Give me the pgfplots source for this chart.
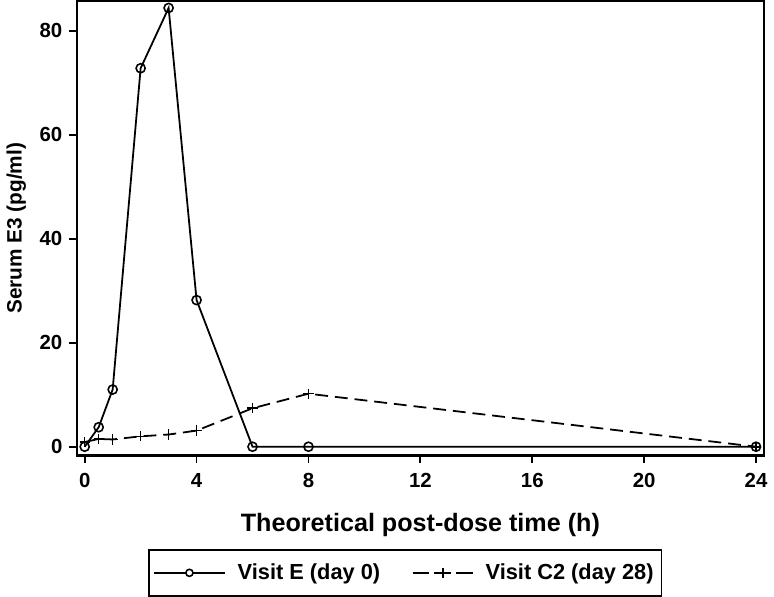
\documentclass[border=0pt]{standalone}
\usepackage{fontspec}
\setmainfont{Liberation Sans}
\usepackage{pgfplots}
\pgfplotsset{compat=1.18}

\begin{document}
\begin{tikzpicture}
\begin{axis}[
    scale only axis,
    width=347pt, height=229.5pt,
    xmin=-0.28, xmax=24.28,
    ymin=-1.7, ymax=85.7,
    xtick={0,4,8,12,16,20,24},
    ytick={0,20,40,60,80},
    tick align=outside,
    tick pos=left,
    major tick length=3.8pt,
    axis line style={line width=1.2pt},
    every tick/.style={line width=0.9pt, black},
    tick label style={font=\bfseries\fontsize{10.3}{11}\selectfont},
    xticklabel style={yshift=-1.5pt},
    /pgf/number format/assume math mode=true,
    xlabel={Theoretical post-dose time (h)},
    ylabel={Serum E3 (pg/ml)},
    xlabel style={font=\bfseries\fontsize{12.7}{14}\selectfont, yshift=-6pt},
    ylabel style={font=\bfseries\fontsize{10.5}{12}\selectfont},
    legend columns=2,
    legend style={
        at={(0.478,-0.205)}, anchor=north,
        draw=black, line width=0.9pt,
        font=\bfseries\fontsize{11}{12}\selectfont,
        inner xsep=2pt, inner ysep=5pt,
        /tikz/every odd column/.append style={column sep=4pt},
        /tikz/every even column/.append style={column sep=14pt},
    },
]
\addplot[black, line width=0.9pt, mark=o, mark size=2.3pt, mark options={solid, line width=0.8pt},
    legend image code/.code={
        \draw[black, line width=0.8pt] (0pt,0pt) -- (36pt,0pt);
        \draw[black, line width=0.8pt, fill=white] (18pt,0pt) circle (1.8pt);
    }]
coordinates {
    (0,0) (0.5,3.75) (1,11.0) (2,72.8) (3,84.4) (4,28.2) (6,0) (8,0) (24,0)
};
\addlegendentry{Visit E (day 0)}
\addplot[black, line width=0.9pt, dash pattern=on 6.5pt off 3.5pt, mark=+, mark size=2.6pt, mark options={solid, line width=0.8pt},
    legend image code/.code={
        \draw[black, line width=0.8pt, dash pattern=on 8.5pt off 2.5pt] (0pt,0pt) -- (30.5pt,0pt);
        \draw[black, line width=0.8pt] (15.25pt,-2.6pt) -- (15.25pt,2.6pt);
    }]
coordinates {
    (0,0.9) (0.5,1.5) (1,1.4) (2,2.0) (3,2.35) (4,3.1) (6,7.4) (8,10.2) (24,0)
};
\addlegendentry{Visit C2 (day 28)}
\end{axis}
\end{tikzpicture}
\end{document}
